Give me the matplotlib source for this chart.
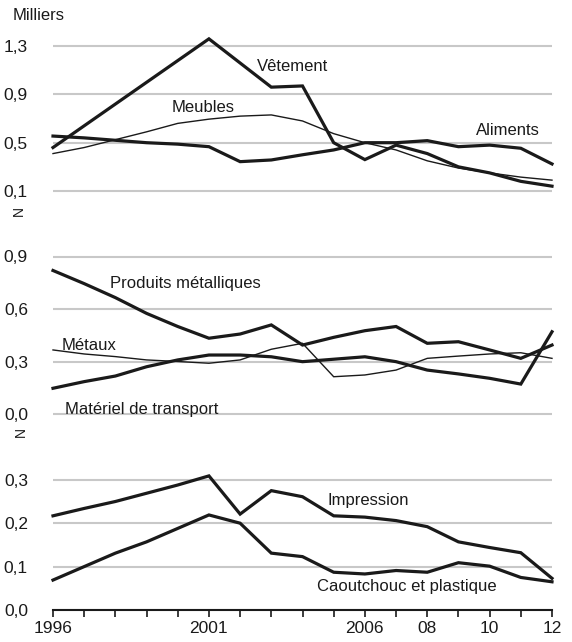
import matplotlib.pyplot as plt
import pandas as pd

plt.rcParams['font.family'] = ['Liberation Sans', 'DejaVu Sans']

# Years on the x axis
years = list(range(1996, 2013))

# Top panel (thousands)
vetement = [0.46, None, None, None, None, 1.36, 1.16, 0.96, 0.97, 0.50,
            0.36, 0.48, 0.41, 0.30, 0.25, 0.18, 0.14]
meubles = [0.41, 0.46, 0.525, 0.59, 0.66, 0.695, 0.72, 0.73, 0.68, 0.575,
           0.50, 0.44, 0.35, 0.29, 0.25, 0.215, 0.19]
aliments = [0.555, 0.54, 0.52, 0.50, 0.488, 0.467, 0.343, 0.357, 0.40, 0.44,
            0.50, 0.50, 0.517, 0.467, 0.48, 0.454, 0.324]

# Middle panel
produits_metal = [0.82, 0.745, 0.665, 0.575, 0.50, 0.433, 0.457, 0.509, 0.394,
                  0.438, 0.476, 0.50, 0.404, 0.413, 0.366, 0.318, 0.394]
metaux = [0.366, 0.343, 0.328, 0.309, 0.30, 0.29, 0.309, 0.37, 0.404, 0.213,
          0.223, 0.251, 0.318, 0.331, 0.343, 0.35, 0.318]
transport = [0.147, 0.185, 0.217, 0.27, 0.309, 0.337, 0.337, 0.327, 0.299,
             0.313, 0.327, 0.299, 0.251, 0.229, 0.204, 0.171, 0.47]

# Bottom panel
impression = [0.217, 0.234, 0.25, 0.269, 0.288, 0.309, 0.221, 0.275, 0.261,
              0.217, 0.214, 0.206, 0.192, 0.157, 0.144, 0.132, 0.073]
caoutchouc = [0.069, 0.10, 0.131, 0.157, 0.188, 0.219, 0.20, 0.131, 0.123,
              0.087, 0.083, 0.091, 0.087, 0.109, 0.101, 0.075, 0.065]

xtick_labels = ['1996', '', '', '', '', '2001', '', '', '', '', '2006', '',
                '08', '', '10', '', '12']

W, H = 572, 642
fig = plt.figure(figsize=(W / 100, H / 100), dpi=100)

left = 53 / W
width = (552 - 53) / W
ink = '#1a1a1a'
grid_col = '#c8c8c8'
thick = 2.3
thin = 1.0
fs = 12.5


def make_axes(bottom_px, top_px, ylim, yticks):
    ax = fig.add_axes([left, 1 - bottom_px / H, width, (bottom_px - top_px) / H])
    ax.set_xlim(1996, 2012)
    ax.set_ylim(*ylim)
    ax.set_yticks(yticks)
    ax.set_yticklabels([f'{t:.1f}'.replace('.', ',') for t in yticks])
    for s in ax.spines.values():
        s.set_visible(False)
    ax.yaxis.grid(True, color=grid_col, linewidth=1.5)
    ax.set_axisbelow(True)
    ax.tick_params(axis='y', length=0, pad=18, labelsize=fs, labelcolor=ink)
    ax.tick_params(axis='x', bottom=False, labelbottom=False)
    return ax


def draw(ax, values, lw):
    s = pd.Series(values, index=years, dtype=float).dropna()
    ax.plot(s.index, s.values, color=ink, linewidth=lw, clip_on=False,
            solid_joinstyle='miter')


# Top panel: 0.1 at y=191 px, 120.75 px per unit
ax1 = make_axes(191 + 0.02 * 120.75, 191 - 1.30 * 120.75, (0.08, 1.40),
                [0.1, 0.5, 0.9, 1.3])
draw(ax1, meubles, thin)
draw(ax1, aliments, thick)
draw(ax1, vetement, thick)
ax1.text(2002.55, 1.127, 'Vêtement', fontsize=12, color=ink, va='center')
ax1.text(1999.8, 0.793, 'Meubles', fontsize=12, color=ink, va='center')
ax1.text(2009.55, 0.605, 'Aliments', fontsize=12, color=ink, va='center')

# Middle panel: 0.0 at y=414 px, 175 px per unit
ax2 = make_axes(414 + 0.02 * 175, 414 - 0.95 * 175, (-0.02, 0.95),
                [0.0, 0.3, 0.6, 0.9])
draw(ax2, metaux, thin)
draw(ax2, transport, thick)
draw(ax2, produits_metal, thick)
ax2.text(1997.83, 0.747, 'Produits métalliques', fontsize=12, color=ink, va='center')
ax2.text(1996.28, 0.394, 'Métaux', fontsize=12, color=ink, va='center')
ax2.text(1996.38, 0.023, 'Matériel de transport', fontsize=12, color=ink, va='center')

# Bottom panel: 0.0 at y=610 px, 434 px per unit
ax3 = make_axes(610, 610 - 0.33 * 434, (0.0, 0.33), [0.0, 0.1, 0.2, 0.3])
draw(ax3, impression, thick)
draw(ax3, caoutchouc, thick)
ax3.text(2004.8, 0.253, 'Impression', fontsize=12, color=ink, va='center')
ax3.text(2004.45, 0.054, 'Caoutchouc et plastique', fontsize=12, color=ink, va='center')
ax3.spines['bottom'].set_visible(True)
ax3.spines['bottom'].set_color(ink)
ax3.spines['bottom'].set_linewidth(1.5)
ax3.set_xticks(years)
ax3.set_xticklabels(xtick_labels)
ax3.tick_params(axis='x', bottom=True, labelbottom=True, direction='out',
                length=5, width=1.2, color=ink, labelsize=fs, labelcolor=ink, pad=3)

# Unit and axis-break marks
fig.text(13 / W, 1 - 15 / H, 'Milliers', fontsize=12, color=ink, va='center')
fig.text(19 / W, 1 - 211 / H, 'N', fontsize=10, rotation=90, color=ink,
         ha='center', va='center')
fig.text(21 / W, 1 - 432 / H, 'N', fontsize=10, rotation=90, color=ink,
         ha='center', va='center')

fig.savefig('out.png', dpi=100)
